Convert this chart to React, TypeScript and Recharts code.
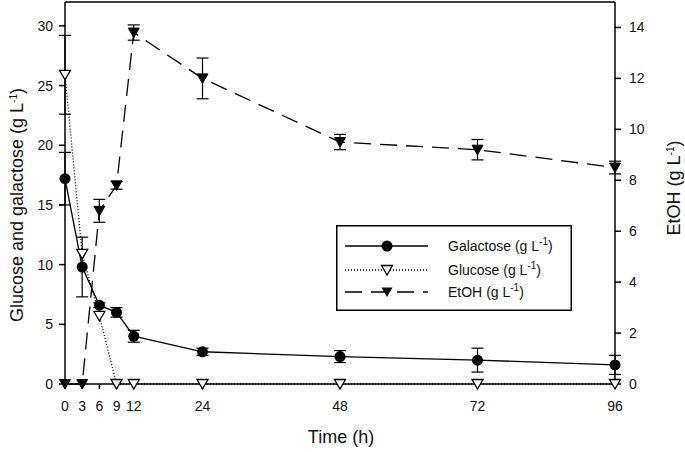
import React from "react";
import {
  ComposedChart,
  ErrorBar,
  Label,
  Legend,
  Line,
  ReferenceLine,
  XAxis,
  YAxis,
} from "recharts";

const FONT = '"Liberation Sans", Arial, sans-serif';

const TIME = [0, 3, 6, 9, 12, 24, 48, 72, 96];
const GALACTOSE = [17.2, 9.8, 6.6, 6.0, 4.0, 2.7, 2.3, 2.0, 1.6];
const GALACTOSE_ERR = [2.2, 2.5, 0.2, 0.4, 0.5, 0.3, 0.5, 1.0, 0.8];
const GLUCOSE = [25.9, 10.9, 5.7, 0, 0, 0, 0, 0, 0];
const GLUCOSE_ERR = [3.3, 0, 0, 0, 0, 0, 0, 0, 0];
const ETOH = [0, 0, 6.8, 7.8, 13.8, 12.0, 9.5, 9.2, 8.5];
const ETOH_ERR = [0, 0, 0.45, 0.15, 0.3, 0.8, 0.3, 0.4, 0.25];

const X_TICKS = [0, 3, 6, 9, 12, 24, 48, 72, 96];
const LEFT_TICKS = [0, 5, 10, 15, 20, 25, 30];
const RIGHT_TICKS = [0, 2, 4, 6, 8, 10, 12, 14];

const data = TIME.map((t, i) => ({
  time: t,
  galactose: GALACTOSE[i],
  galactoseErr: GALACTOSE_ERR[i],
  glucose: GLUCOSE[i],
  glucoseErr: GLUCOSE_ERR[i],
  etoh: ETOH[i],
  etohErr: ETOH_ERR[i],
}));

const axisStyle = { stroke: "#000", strokeWidth: 1.5 };
const tickStyle = { fontSize: 14, fill: "#111", fontFamily: FONT };

function circleDot(props: any) {
  const { cx, cy, index } = props;
  if (cx == null || cy == null) return <g key={`c-${index}`} />;
  return <circle key={`c-${index}`} cx={cx} cy={cy} r={5.5} fill="#000" />;
}

function triPath(cx: number, cy: number) {
  return `M${cx - 5.5},${cy - 4.5} L${cx + 5.5},${cy - 4.5} L${cx},${cy + 5} Z`;
}

function openTri(props: any) {
  const { cx, cy, index } = props;
  if (cx == null || cy == null) return <g key={`o-${index}`} />;
  return (
    <path key={`o-${index}`} d={triPath(cx, cy)} fill="#fff" stroke="#000" strokeWidth={1.3} />
  );
}

function filledTri(props: any) {
  const { cx, cy, index } = props;
  if (cx == null || cy == null) return <g key={`f-${index}`} />;
  return <path key={`f-${index}`} d={triPath(cx, cy)} fill="#000" stroke="#000" strokeWidth={1} />;
}

function Unit() {
  return (
    <>
      (g L<tspan dy={-6} fontSize={10}>-1</tspan>
      <tspan dy={6}>)</tspan>
    </>
  );
}

function LegendBox() {
  const rows = [
    { name: "Galactose", y: 21, dash: undefined, marker: "circle" },
    { name: "Glucose", y: 45, dash: "1 2", marker: "open" },
    { name: "EtOH", y: 67, dash: "17 9", marker: "filled" },
  ];
  return (
    <svg width={236} height={86} style={{ display: "block" }}>
      <rect x={0.75} y={0.75} width={234.5} height={84.5} fill="#fff" stroke="#000" strokeWidth={1.5} />
      {rows.map((r) => (
        <g key={r.name}>
          <line x1={9} x2={92} y1={r.y} y2={r.y} stroke="#000" strokeWidth={1.3} strokeDasharray={r.dash} />
          {r.marker === "circle" && <circle cx={51} cy={r.y} r={5.5} fill="#000" />}
          {r.marker === "open" && <path d={triPath(51, r.y)} fill="#fff" stroke="#000" strokeWidth={1.3} />}
          {r.marker === "filled" && <path d={triPath(51, r.y)} fill="#000" />}
          <text x={112} y={r.y + 5} fontSize={14} fontFamily={FONT} fill="#111">
            {r.name} <Unit />
          </text>
        </g>
      ))}
    </svg>
  );
}

export default function App() {
  return (
    <div style={{ position: "absolute", left: 0, top: 0, background: "#fff" }}>
      <ComposedChart
        width={685}
        height={452}
        data={data}
        margin={{ top: 2, right: 0, bottom: 0, left: 0 }}
      >
        <XAxis
          dataKey="time"
          type="number"
          domain={[0, 96]}
          ticks={X_TICKS}
          interval={0}
          height={68}
          axisLine={axisStyle}
          tickLine={axisStyle}
          tickSize={5}
          tickMargin={12}
          tick={tickStyle}
        >
          <Label
            content={() => (
              <text x={341} y={443} textAnchor="middle" fontSize={18} fontFamily={FONT} fill="#111">
                Time (h)
              </text>
            )}
          />
        </XAxis>
        <YAxis
          yAxisId="left"
          domain={[0, 32]}
          ticks={LEFT_TICKS}
          interval={0}
          width={65}
          axisLine={axisStyle}
          tickLine={axisStyle}
          tickSize={6}
          tickMargin={6}
          tick={tickStyle}
        >
          <Label
            content={() => (
              <text
                transform="translate(23,205) rotate(-90)"
                textAnchor="middle"
                fontSize={18}
                fontFamily={FONT}
                fill="#111"
              >
                Glucose and galactose <Unit />
              </text>
            )}
          />
        </YAxis>
        <YAxis
          yAxisId="right"
          orientation="right"
          domain={[0, 15]}
          ticks={RIGHT_TICKS}
          interval={0}
          width={70}
          axisLine={axisStyle}
          tickLine={axisStyle}
          tickSize={6}
          tickMargin={8}
          tick={tickStyle}
        >
          <Label
            content={() => (
              <text
                transform="translate(680,188) rotate(-90)"
                textAnchor="middle"
                fontSize={18}
                fontFamily={FONT}
                fill="#111"
              >
                EtOH <Unit />
              </text>
            )}
          />
        </YAxis>
        <ReferenceLine yAxisId="left" y={32} stroke="#000" strokeWidth={1.5} ifOverflow="visible" />
        <Legend
          layout="vertical"
          align="center"
          verticalAlign="middle"
          wrapperStyle={{ left: 336, top: 225, width: 236, height: 86 }}
          content={() => <LegendBox />}
        />
        <Line
          yAxisId="left"
          dataKey="galactose"
          type="linear"
          stroke="#000"
          strokeWidth={1.3}
          dot={circleDot}
          activeDot={false}
          isAnimationActive={false}
        >
          <ErrorBar dataKey="galactoseErr" width={6} stroke="#000" strokeWidth={1.2} direction="y" />
        </Line>
        <Line
          yAxisId="left"
          dataKey="glucose"
          type="linear"
          stroke="#000"
          strokeWidth={1.3}
          strokeDasharray="1 2"
          dot={openTri}
          activeDot={false}
          isAnimationActive={false}
        >
          <ErrorBar dataKey="glucoseErr" width={6} stroke="#000" strokeWidth={1.2} direction="y" />
        </Line>
        <Line
          yAxisId="right"
          dataKey="etoh"
          type="linear"
          stroke="#000"
          strokeWidth={1.3}
          strokeDasharray="17 9"
          dot={filledTri}
          activeDot={false}
          isAnimationActive={false}
        >
          <ErrorBar dataKey="etohErr" width={6} stroke="#000" strokeWidth={1.2} direction="y" />
        </Line>
      </ComposedChart>
    </div>
  );
}
